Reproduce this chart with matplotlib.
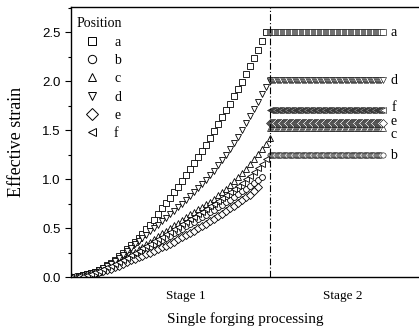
import numpy as np
import matplotlib
matplotlib.use("Agg")
import matplotlib.pyplot as plt
from matplotlib.lines import Line2D
from matplotlib.ticker import MultipleLocator, FormatStrFormatter

# effective strain during stage 1 (one value per 0.02 increment)
strain_a = [0.000, 0.004, 0.010, 0.018, 0.028, 0.040, 0.056, 0.075, 0.096, 0.118,
            0.142, 0.175, 0.210, 0.247, 0.285, 0.322, 0.360, 0.400, 0.440, 0.485,
            0.530, 0.585, 0.640, 0.700, 0.755, 0.810, 0.865, 0.920, 0.980, 1.040,
            1.100, 1.160, 1.220, 1.285, 1.350, 1.420, 1.490, 1.560, 1.630, 1.700,
            1.770, 1.845, 1.920, 1.995, 2.070, 2.150, 2.235, 2.320, 2.410, 2.500]
strain_b = [0.000, 0.002, 0.006, 0.012, 0.020, 0.030, 0.042, 0.055, 0.069, 0.084,
            0.100, 0.119, 0.138, 0.158, 0.179, 0.200, 0.222, 0.244, 0.266, 0.288,
            0.310, 0.332, 0.354, 0.376, 0.398, 0.420, 0.444, 0.468, 0.492, 0.516,
            0.540, 0.564, 0.588, 0.612, 0.636, 0.660, 0.686, 0.712, 0.738, 0.764,
            0.790, 0.817, 0.845, 0.873, 0.901, 0.930, 0.960, 0.990, 1.020]
strain_c = [0.000, 0.002, 0.006, 0.012, 0.020, 0.030, 0.042, 0.056, 0.072, 0.090,
            0.110, 0.133, 0.156, 0.180, 0.205, 0.230, 0.256, 0.282, 0.308, 0.334,
            0.360, 0.388, 0.416, 0.444, 0.472, 0.500, 0.528, 0.556, 0.584, 0.612,
            0.640, 0.666, 0.692, 0.718, 0.744, 0.770, 0.800, 0.832, 0.866, 0.902,
            0.940, 0.980, 1.020, 1.060, 1.104, 1.150, 1.200, 1.252, 1.306, 1.362,
            1.420]
strain_d = [0.000, 0.004, 0.010, 0.018, 0.028, 0.040, 0.055, 0.073, 0.093, 0.114,
            0.137, 0.165, 0.195, 0.228, 0.262, 0.297, 0.333, 0.368, 0.400, 0.432,
            0.465, 0.500, 0.535, 0.570, 0.605, 0.640, 0.675, 0.710, 0.750, 0.790,
            0.830, 0.870, 0.910, 0.950, 0.995, 1.040, 1.085, 1.140, 1.195, 1.250,
            1.310, 1.370, 1.430, 1.500, 1.570, 1.640, 1.710, 1.790, 1.870, 1.940,
            2.000]
strain_e = [0.000, 0.002, 0.005, 0.010, 0.017, 0.026, 0.036, 0.047, 0.059, 0.072,
            0.086, 0.101, 0.117, 0.134, 0.152, 0.170, 0.185, 0.201, 0.217, 0.233,
            0.250, 0.267, 0.285, 0.303, 0.321, 0.340, 0.361, 0.383, 0.405, 0.427,
            0.450, 0.474, 0.498, 0.522, 0.546, 0.570, 0.596, 0.622, 0.648, 0.674,
            0.700, 0.728, 0.756, 0.784, 0.812, 0.840, 0.878, 0.920]
strain_f = [0.000, 0.002, 0.007, 0.014, 0.023, 0.035, 0.048, 0.063, 0.079, 0.097,
            0.115, 0.135, 0.156, 0.177, 0.198, 0.220, 0.244, 0.268, 0.292, 0.316,
            0.340, 0.364, 0.388, 0.412, 0.436, 0.460, 0.486, 0.512, 0.538, 0.564,
            0.590, 0.616, 0.642, 0.668, 0.694, 0.720, 0.749, 0.778, 0.808, 0.839,
            0.870, 0.901, 0.932, 0.964, 0.996, 1.030, 1.068, 1.108, 1.152, 1.200]

# strain held constant through stage 2
positions = ['a', 'b', 'c', 'd', 'e', 'f']
stage2_strain = [2.50, 1.245, 1.52, 2.01, 1.57, 1.70]
# where the position letters sit (c and e pulled apart so they stay readable)
label_y = [2.50, 1.245, 1.45, 2.01, 1.59, 1.73]
markers = ['s', 'o', '^', 'v', 'D', '<']
stage1 = [strain_a, strain_b, strain_c, strain_d, strain_e, strain_f]

plt.rcParams['font.family'] = ['Liberation Serif', 'DejaVu Serif']

fig = plt.figure(figsize=(4.19, 3.30), dpi=100)
ax = fig.add_axes([0.1695, 0.1606, 0.8305, 0.818])

step1 = 0.02
step2 = np.arange(1.0, 1.572, 0.006)

for vals, m, pos, lvl, ly in zip(stage1, markers, positions, stage2_strain, label_y):
    x1 = np.arange(len(vals)) * step1
    ax.plot(x1, vals, linestyle='none', marker=m, ms=4.2, mfc='white',
            mec='black', mew=0.6)
    ax.plot(step2, [lvl] * len(step2), linestyle='none', marker=m, ms=3.8,
            mfc='white', mec='black', mew=0.4)
    ax.text(1.626, ly, pos, fontsize=10, ha='center', va='center')

ax.axvline(1.0, color='black', lw=0.8, ls=(0, (6, 2, 1, 2)))

ax.set_xlim(0, 1.753)
ax.set_ylim(0, 2.755)
ax.set_xticks([0.58, 1.37])
ax.set_xticklabels(['Stage 1', 'Stage 2'], fontsize=9.5)
ax.tick_params(axis='x', length=0, pad=9)
ax.yaxis.set_major_locator(MultipleLocator(0.5))
ax.yaxis.set_minor_locator(MultipleLocator(0.25))
ax.yaxis.set_major_formatter(FormatStrFormatter('%.1f'))
ax.tick_params(axis='y', which='major', length=4, width=0.8, labelsize=9.5)
ax.tick_params(axis='y', which='minor', length=2, width=0.8)
for lab in ax.get_yticklabels():
    lab.set_family('Liberation Sans')

ax.spines['right'].set_visible(False)
for s in ['left', 'bottom', 'top']:
    ax.spines[s].set_linewidth(1.0)

ax.set_ylabel('Effective strain', fontsize=13, labelpad=12)
ax.set_xlabel('Single forging processing', fontsize=11, labelpad=8)

handles = [Line2D([], [], linestyle='none', marker=m, ms=6, mfc='white',
                  mec='black', mew=0.7) for m in markers]
leg = ax.legend(handles, positions, title='Position', loc='upper left',
                bbox_to_anchor=(-0.014, 1.0),
                frameon=False, fontsize=10, title_fontsize=10,
                handlelength=2.2, handletextpad=0.5, labelspacing=0.38,
                borderaxespad=0.2, borderpad=0.55, alignment='left')

fig.savefig('out.png', dpi=100)
